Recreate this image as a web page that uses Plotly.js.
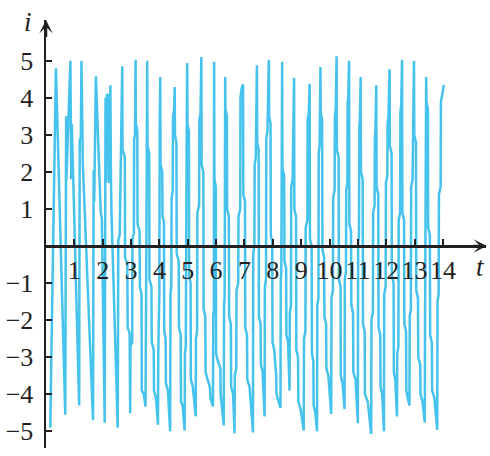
<!DOCTYPE html>
<html>
<head>
<meta charset="utf-8">
<script src="https://cdn.plot.ly/plotly-3.0.1.min.js"></script>
<style>html,body{margin:0;padding:0;background:#fff;}#chart{width:490px;height:456px;}</style>
</head>
<body>
<div id="chart"></div>
<script>
// time values (t) and current values (i)
var tValues = [
0.15,0.35,0.68,0.71,0.72,0.86,0.88,0.89,0.91,1.17,1.19,1.23,1.25,1.28,1.30,1.66,1.68,1.70,1.76,1.93,1.97,2.07,2.10,2.12,2.15,2.20,2.22,2.27,2.29,2.31,2.53,2.55,2.60,2.69,
2.70,2.78,2.79,2.87,2.88,2.95,2.97,
2.98,3.04,3.05,3.10,3.11,3.14,3.16,
3.17,3.22,3.23,3.30,3.31,3.37,3.38,3.45,3.51,
3.52,3.53,3.55,3.57,
3.58,3.64,3.65,3.72,3.73,3.80,3.81,3.88,3.95,
3.96,3.98,4.00,4.01,4.02,4.03,
4.04,4.10,4.11,4.16,4.17,4.22,4.23,4.30,4.38,
4.39,4.42,4.43,4.47,4.48,4.52,4.54,
4.55,4.60,4.61,4.68,4.69,4.75,4.76,4.82,4.89,
4.90,4.93,4.94,4.96,4.98,
4.99,5.04,5.05,5.10,5.11,5.18,5.28,
5.29,5.33,5.34,5.40,5.41,5.45,5.48,
5.49,5.55,5.56,5.62,5.63,5.70,5.78,5.80,5.89,
5.90,5.92,5.93,
5.94,5.99,6.00,6.06,6.15,6.16,6.27,
6.28,6.30,6.32,
6.33,6.38,6.39,6.45,6.46,6.52,6.53,6.60,6.65,
6.66,6.71,6.72,6.78,6.79,6.85,6.86,6.90,6.95,
6.96,7.02,7.03,7.09,7.10,7.18,7.30,
7.31,7.35,7.36,7.40,7.44,
7.45,7.50,7.51,7.57,7.58,7.64,7.71,
7.72,7.76,7.77,7.81,7.86,
7.87,7.92,7.93,7.98,7.99,8.05,8.12,8.13,8.27,
8.28,8.30,8.33,
8.34,8.40,8.41,8.47,8.48,8.54,8.59,
8.60,8.64,8.65,8.70,8.75,
8.76,8.82,8.83,8.89,8.90,8.98,9.09,
9.10,9.15,9.16,9.22,9.23,9.27,9.30,
9.31,9.37,9.38,9.43,9.44,9.50,9.56,
9.57,9.61,9.62,9.65,9.68,
9.69,9.74,9.75,9.81,9.82,9.88,9.89,9.96,10.06,
10.07,10.12,10.13,10.18,10.19,10.22,10.25,
10.26,10.32,10.33,10.39,10.40,10.46,10.53,
10.54,10.58,10.59,10.63,10.64,10.66,10.69,
10.70,10.76,10.77,10.83,10.84,10.92,11.00,
11.01,11.04,11.05,11.07,11.10,
11.11,11.17,11.18,11.24,11.25,11.35,11.47,
11.48,11.53,11.54,11.59,11.60,11.62,11.65,
11.66,11.72,11.73,11.79,11.80,11.86,11.92,
11.93,11.98,11.99,12.04,12.05,12.08,12.12,
12.13,12.19,12.20,12.26,12.27,12.32,12.38,
12.39,12.43,12.44,12.49,12.50,12.53,12.56,
12.57,12.63,12.64,12.70,12.71,12.76,12.82,
12.83,12.87,12.88,12.93,12.98,
12.99,13.05,13.06,13.12,13.13,13.20,13.21,13.28,13.36,
13.37,13.38,13.40,13.41,
13.42,13.47,13.48,13.54,13.55,13.61,13.62,13.70,13.80,
13.81,13.85,13.86,13.92,13.93,13.98,14.03
];
var iValues = [
-4.9,4.8,-4.55,3.5,1.8,5.0,3.2,1.8,3.3,-4.3,2.85,2.95,5.0,3.6,2.2,-4.7,2.05,1.2,4.58,0.9,0.75,-4.77,4.0,1.72,4.1,4.05,1.7,4.34,2.0,0.9,-4.9,0.16,0.3,4.85,
2.6,2.4,-0.3,-0.5,-2.2,-2.35,-4.51,
-2.7,-2.6,0.2,0.35,2.9,3.0,5.03,
3.3,3.1,0.6,0.4,-1.1,-1.3,-3.9,-4.0,-4.33,
-1.5,1.2,1.4,5.0,
2.7,2.5,-0.9,-1.1,-2.6,-2.8,-3.9,-4.1,-4.82,
-2.9,-1.4,-1.2,3.2,3.5,4.56,
2.2,2.0,0.8,0.65,-2.3,-2.5,-3.7,-3.9,-5.0,
-1.3,-1.1,1.3,1.5,3.5,3.7,4.29,
3.0,2.8,-0.2,-0.4,-2.2,-2.4,-4.2,-4.3,-4.98,
-2.9,-2.7,2.4,2.6,4.94,
3.3,3.1,-0.8,-1.0,-3.6,-3.8,-4.6,
-2.5,-2.3,0.9,1.1,3.4,3.6,5.1,
2.2,2.0,-1.7,-1.9,-3.4,-3.6,-3.8,-4.1,-4.33,
-1.9,-1.7,4.97,
1.8,1.6,-2.9,-3.1,-3.3,-4.0,-4.84,
-1.6,-1.4,4.56,
3.7,3.5,1.0,0.8,-1.9,-2.1,-3.8,-4.0,-5.05,
-3.5,-3.3,-1.2,-1.0,0.8,1.0,4.0,4.25,4.36,
1.4,1.2,-2.2,-2.4,-3.6,-3.8,-5.03,
-0.2,0.0,2.2,2.4,4.88,
2.8,2.6,-1.9,-2.1,-3.2,-3.4,-4.6,
-1.1,-0.9,2.9,3.1,5.03,
3.5,3.3,0.3,0.1,-2.6,-2.8,-3.5,-4.0,-4.37,
-0.9,-0.7,4.97,
2.1,1.9,-0.4,-0.6,-2.4,-2.6,-3.9,
-1.8,-1.6,1.6,1.8,4.54,
1.0,0.8,-2.8,-3.0,-4.2,-4.4,-4.98,
-2.5,-2.3,0.5,0.7,3.4,3.6,4.38,
0.2,0.0,-2.9,-3.1,-4.3,-4.5,-5.0,
-1.6,-1.4,2.5,2.7,4.83,
3.6,3.4,-0.1,-0.3,-1.9,-2.1,-3.3,-3.5,-4.53,
-1.4,-1.2,1.3,1.5,3.5,3.7,5.12,
2.6,2.4,-0.9,-1.1,-3.5,-3.7,-4.4,
-0.9,-0.7,1.5,1.7,3.9,4.0,5.0,
0.6,0.4,-1.6,-1.8,-3.4,-3.6,-4.78,
0.1,0.3,3.2,3.4,4.56,
2.0,1.8,-2.1,-2.3,-4.0,-4.2,-5.07,
-2.0,-1.8,0.9,1.1,2.9,3.1,4.34,
1.6,1.4,-2.2,-2.4,-3.8,-4.0,-5.0,
-1.3,-1.1,1.7,1.9,3.3,3.5,4.77,
2.7,2.5,-0.8,-1.0,-3.4,-3.6,-4.6,
-2.9,-2.7,0.7,0.9,3.6,3.8,5.03,
0.9,0.7,-2.1,-2.3,-3.9,-4.1,-4.3,
-1.9,-1.7,1.6,1.8,5.0,
3.0,2.8,-1.2,-1.4,-3.0,-3.2,-4.0,-4.2,-4.76,
-2.0,2.2,2.4,4.56,
3.9,3.7,0.5,0.3,-2.4,-2.6,-3.9,-4.1,-4.96,
-1.5,-1.3,1.4,1.6,3.9,4.1,4.35
];
var xTickVals = [1,2,3,4,5,6,7,8,9,10,11,12,13,14];
var xTickText = ["1","2","3","4","5","6","7","8","9","10","11","12","13","14"];
var yTickVals = [-5,-4,-3,-2,-1,1,2,3,4,5];
var yTickText = ["\u22125","\u22124","\u22123","\u22122","\u22121","1","2","3","4","5"];

var axisColor = "#231f20";
var serif = "'Liberation Serif', 'Times New Roman', Times, serif";
var tickFont = {family: serif, size: 26, color: axisColor};

var trace = {
  x: tValues, y: iValues, type: "scatter", mode: "lines",
  line: {color: "#45c3ec", width: 2.5},
  hoverinfo: "skip"
};

var yMin = -5.45, yMax = 6.1;
var layout = {
  width: 490, height: 456,
  margin: {l: 46, r: 4, t: 20, b: 8, pad: 0},
  paper_bgcolor: "#fff", plot_bgcolor: "#fff",
  showlegend: false,
  font: {family: serif, size: 26, color: axisColor},
  xaxis: {
    range: [0, 15.52], showgrid: false, zeroline: false,
    showline: true, linecolor: axisColor, linewidth: 2.5,
    anchor: "free", position: (0 - yMin) / (yMax - yMin),
    ticks: "inside", ticklen: 6, tickwidth: 2, tickcolor: axisColor,
    tickvals: xTickVals, ticktext: xTickText, tickfont: tickFont,
    ticklabelstandoff: 0
  },
  yaxis: {
    range: [yMin, yMax], showgrid: false, zeroline: false,
    showline: true, linecolor: axisColor, linewidth: 2.5,
    ticks: "inside", ticklen: 6, tickwidth: 2, tickcolor: axisColor,
    tickvals: yTickVals, ticktext: yTickText, tickfont: tickFont,
    ticklabelstandoff: 5
  },
  annotations: [
    {x: 15.55, y: 0, ax: 15.0, ay: 0, xref: "x", yref: "y", axref: "x", ayref: "y",
     text: "", showarrow: true, arrowhead: 3, arrowsize: 0.9, arrowwidth: 2.5, arrowcolor: axisColor},
    {x: 0, y: 6.1, ax: 0, ay: 5.6, xref: "x", yref: "y", axref: "x", ayref: "y",
     text: "", showarrow: true, arrowhead: 3, arrowsize: 0.9, arrowwidth: 2.5, arrowcolor: axisColor},
    {xref: "paper", yref: "paper", x: (28 - 46) / 440, y: (448 - 22) / 428,
     text: "<i>i</i>", showarrow: false, xanchor: "center", yanchor: "middle",
     font: {family: serif, size: 27, color: axisColor}},
    {xref: "paper", yref: "paper", x: (480 - 46) / 440, y: (448 - 267) / 428,
     text: "<i>t</i>", showarrow: false, xanchor: "center", yanchor: "middle",
     font: {family: serif, size: 27, color: axisColor}}
  ]
};

Plotly.newPlot("chart", [trace], layout, {staticPlot: true, displayModeBar: false});
</script>
</body>
</html>
